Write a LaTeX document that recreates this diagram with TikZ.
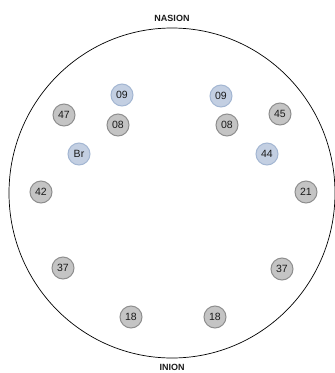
\documentclass[tikz,border=0pt]{standalone}
\usepackage{fontspec}
\setmainfont{Liberation Sans}
\definecolor{grayfill}{HTML}{C4C4C4}
\definecolor{grayline}{HTML}{8E8E8E}
\definecolor{bluefill}{HTML}{C3CFE2}
\definecolor{blueline}{HTML}{A3B6D2}
\definecolor{txt}{HTML}{1A1A1A}
\begin{document}
\begin{tikzpicture}[x=1pt,y=-1pt,
  elec/.style={circle,draw=grayline,fill=grayfill,line width=1pt,minimum size=22pt,inner sep=0pt,text=txt,font=\fontsize{10.5}{10.5}\selectfont},
  belec/.style={elec,draw=blueline,fill=bluefill},
  lbl/.style={font=\bfseries\fontsize{9}{9}\selectfont,inner sep=0pt,text=txt}]
\useasboundingbox (0,0) rectangle (335,373);
\draw[line width=0.7pt] (172,193) ellipse [x radius=163, y radius=165];
\node[lbl] (nasion) at (172,18.5) {NASION};
\node[lbl] (inion) at (172,367.5) {INION};
\node[belec] (a) at (122,95) {09};
\node[belec] (b) at (221,96) {09};
\node[elec] (c) at (64,115) {47};
\node[elec] (d) at (280,114) {45};
\node[elec] (e) at (118,125) {08};
\node[elec] (f) at (227,125) {08};
\node[belec] (g) at (79,154) {Br};
\node[belec] (h) at (267,154) {44};
\node[elec] (i) at (41,192) {42};
\node[elec] (j) at (306,192) {21};
\node[elec] (k) at (63,268) {37};
\node[elec] (l) at (282,269) {37};
\node[elec] (m) at (131,317) {18};
\node[elec] (n) at (215,317) {18};
\end{tikzpicture}
\end{document}
